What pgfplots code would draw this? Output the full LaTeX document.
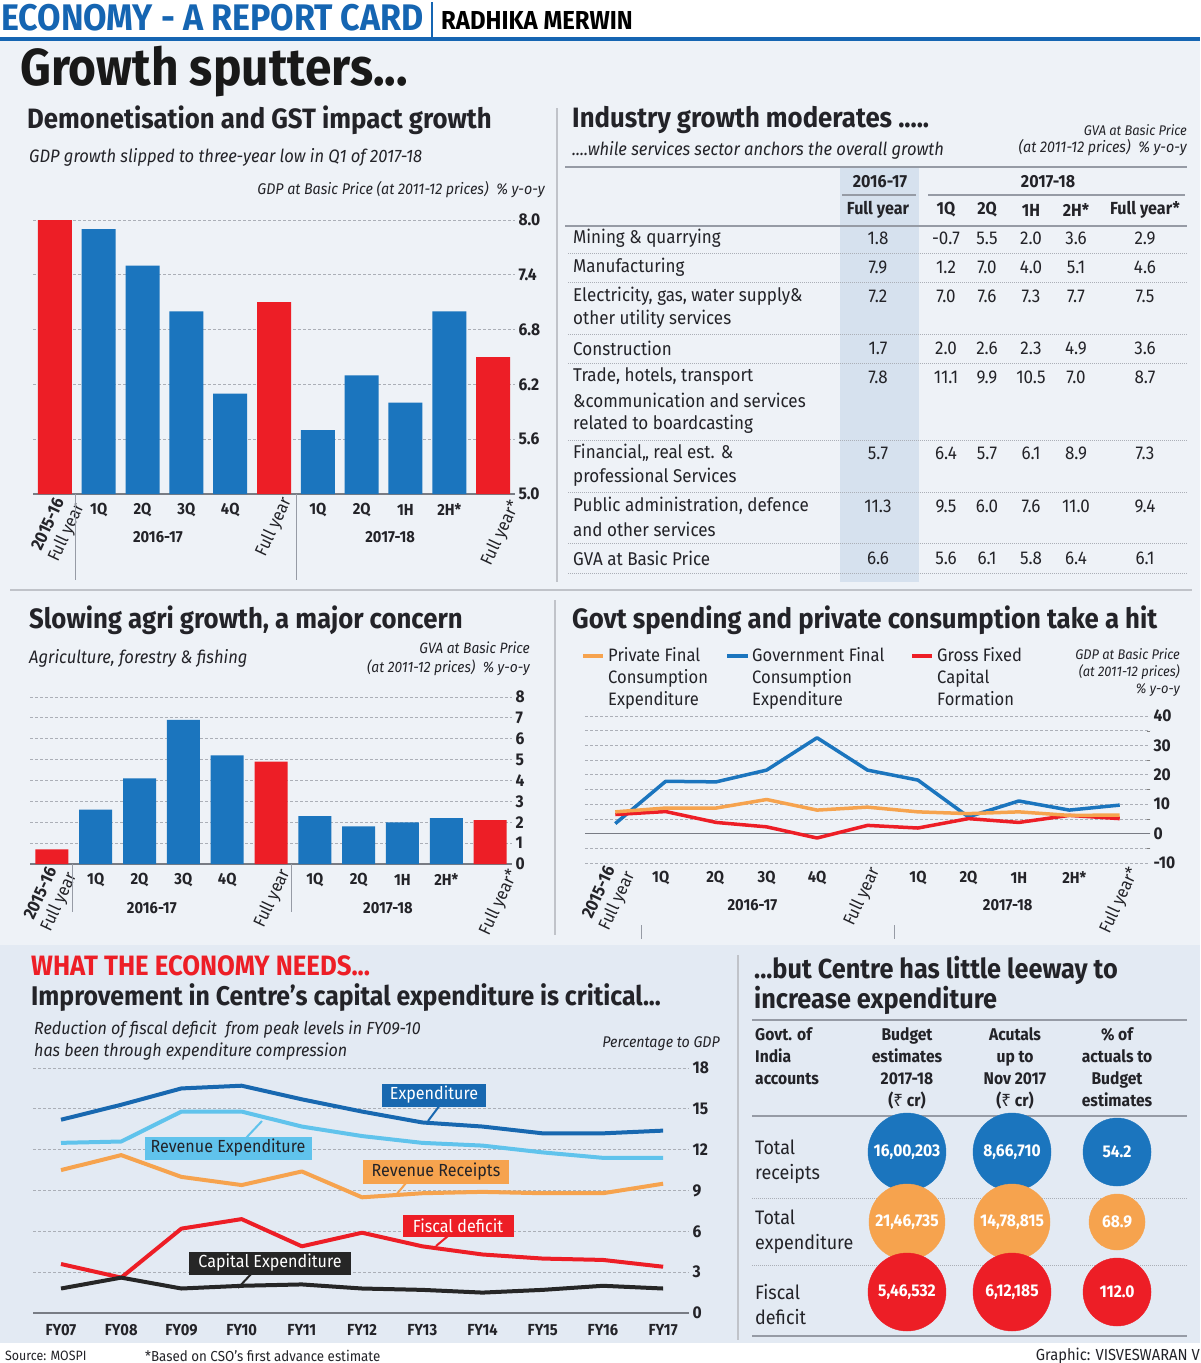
\documentclass[border=0pt]{standalone}
\usepackage{fontspec}
\setmainfont{Fira Sans}[FakeStretch=0.92]
\newfontfamily\rupee{Noto Sans}
\usepackage{pgfplots}
\pgfplotsset{compat=1.18}

\definecolor{bgtop}{RGB}{238,242,247}
\definecolor{bgbot}{RGB}{227,234,243}
\definecolor{cblue}{RGB}{27,117,190}
\definecolor{cred}{RGB}{237,30,38}
\definecolor{corange}{RGB}{246,163,78}
\definecolor{clblue}{RGB}{96,195,236}
\definecolor{cdblue}{RGB}{24,104,176}
\definecolor{hblue}{RGB}{21,101,178}
\definecolor{colshade}{RGB}{214,225,238}
\definecolor{txt}{RGB}{35,35,40}
\definecolor{rule}{RGB}{150,155,165}

\newcommand\fs[2]{\fontsize{#1}{#2}\selectfont}
% x label under an axis: [yshift]{x}{y}{text}
\newcommand\xl[4][-16pt]{\node[lab] at (axis cs:#2,#3) [yshift=#1] {#4};}
\newcommand\cv[3]{\node[font=\bfseries\fs{17}{17}, text=white, inner sep=0pt] at (axis cs:#1,#2) {#3};}

\pgfplotsset{
  barax/.style={scale only axis, clip=true,
    axis x line*=bottom, axis y line*=right,
    y axis line style={draw=none},
    x axis line style={line width=1.6pt, color=rule!80!black},
    xtick=\empty, major tick length=0pt,
    ymajorgrids, grid style={densely dashed, rule!80, line width=0.8pt},
    tick label style={font=\bfseries\fs{17}{17}, text=txt},
    /pgf/number format/assume math mode=true},
}
\tikzset{
  lab/.style={font=\bfseries\fs{16}{16}, text=txt, inner sep=0pt},
  rlab/.style={font=\fs{17.5}{20}, text=txt, inner sep=0pt, rotate=65, anchor=east, align=center},
  ttl/.style={font=\bfseries\fs{28}{28}, text=txt, anchor=west},
  sub/.style={font=\itshape\fs{18}{18}, text=txt, anchor=west},
  unit/.style={font=\itshape\fs{14}{17}, text=txt, anchor=east, align=right},
  cell/.style={font=\fs{18.5}{18.5}, text=txt},
}

\begin{document}
\begin{tikzpicture}
\path[use as bounding box] (0,0) rectangle (1200pt,-1363pt);
\begin{scope}[x=1pt, y=-1pt, every node/.append style={inner sep=0pt}]
  % backgrounds
  \fill[white] (0,0) rectangle (1200,1363);
  \fill[bgtop] (0,41) rectangle (1200,945);
  \fill[bgbot] (0,945) rectangle (1200,1343);
  \fill[hblue] (0,37) rectangle (1200,41);
  \draw[hblue, line width=2pt] (432,2) -- (432,37);
  \node[anchor=west, font=\bfseries\fs{37}{37}, text=hblue] at (1,18) {ECONOMY - A REPORT CARD};
  \node[anchor=west, font=\bfseries\fs{26}{26}, text=black] at (441,20) {RADHIKA MERWIN};
  \node[anchor=west, font=\bfseries\fs{52}{52}, text=black!90] at (20,72) {Growth sputters...};
  % separators
  \draw[rule!60, line width=1.2pt] (557,108) -- (557,582);
  \draw[rule!60, line width=1.2pt] (10,590) -- (1192,590);
  \draw[rule!60, line width=1.2pt] (555,600) -- (555,935);
  \draw[rule!60, line width=1.2pt] (738,955) -- (738,1340);

  % top-left texts
  \node[ttl] at (27,120) {Demonetisation and GST impact growth};
  \node[sub] at (29,157) {GDP growth slipped to three-year low in Q1 of 2017-18};
  \node[unit, font=\itshape\fs{15.5}{17}] at (545,190) {GDP at Basic Price (at 2011-12 prices)\enspace\% y-o-y};

  % top-right table
  \fill[colshade] (840,168) rectangle (919,582);
  \node[ttl] at (572,120) {Industry growth moderates .....};
  \node[sub] at (572,150) {....while services sector anchors the overall growth};
  \node[unit] at (1187,130) {GVA at Basic Price};
  \node[unit, font=\itshape\fs{15.5}{17}] at (1187,148) {(at 2011-12 prices)\enspace\% y-o-y};
  \draw[rule, line width=2pt] (565,167) -- (1187,167);
  \node[lab, font=\bfseries\fs{17.5}{17.5}] at (880,182) {2016-17};
  \node[lab, font=\bfseries\fs{17.5}{17.5}] at (1048,182) {2017-18};
  \draw[rule, line width=1.5pt] (842,195) -- (916,195);
  \draw[rule, line width=1.5pt] (928,195) -- (1185,195);
  \foreach \x/\t in {878/Full year,946/1Q,987/2Q,1031/1H,1076/2H*,1145/Full year*}
    \node[lab, font=\bfseries\fs{17.5}{17.5}] at (\x,210) {\t};
  \draw[rule, line width=2pt] (565,226) -- (1187,226);
  \foreach \y in {253,282,334,363,440,492,543,573}
    \draw[rule!80, densely dotted, line width=1pt] (568,\y) -- (1187,\y);
  \foreach \y/\t in {238/Mining \& quarrying, 267/Manufacturing,
      296/{Electricity, gas, water supply\&}, 319/other utility services,
      348/Construction, 377/{Trade, hotels, transport},
      400/\&communication and services, 424/related to boardcasting,
      453/{Financial,, real est. \&}, 477/professional Services,
      506/{Public administration, defence}, 529/and other services,
      558/GVA at Basic Price}
    \node[cell, anchor=west] at (573,\y) {\t};
  \foreach \y/\a/\b/\c/\d/\e/\f in {
      238/1.8/-0.7/5.5/2.0/3.6/2.9, 267/7.9/1.2/7.0/4.0/5.1/4.6,
      296/7.2/7.0/7.6/7.3/7.7/7.5, 348/1.7/2.0/2.6/2.3/4.9/3.6,
      377/7.8/11.1/9.9/10.5/7.0/8.7, 453/5.7/6.4/5.7/6.1/8.9/7.3,
      506/11.3/9.5/6.0/7.6/11.0/9.4, 558/6.6/5.6/6.1/5.8/6.4/6.1}{
    \node[cell] at (878,\y) {\a};
    \node[cell] at (946,\y) {\b};
    \node[cell] at (987,\y) {\c};
    \node[cell] at (1031,\y) {\d};
    \node[cell] at (1076,\y) {\e};
    \node[cell] at (1145,\y) {\f};
  }

  % middle-left texts
  \node[ttl] at (29,620) {Slowing agri growth, a major concern};
  \node[sub] at (29,658) {Agriculture, forestry \& fishing};
  \node[unit, font=\itshape\fs{15}{17}] at (530,648) {GVA at Basic Price};
  \node[unit, font=\itshape\fs{15}{17}] at (530,668) {(at 2011-12 prices)\enspace\% y-o-y};

  % middle-right texts
  \node[ttl] at (572,620) {Govt spending and private consumption take a hit};
  \draw[corange, line width=4pt] (583,656) -- (603,656);
  \draw[cblue, line width=4pt] (727,656) -- (748,656);
  \draw[cred, line width=4pt] (912,656) -- (932,656);
  \node[cell, anchor=north west, align=left, font=\fs{18}{22}] at (608,647) {Private Final\\Consumption\\Expenditure};
  \node[cell, anchor=north west, align=left, font=\fs{18}{22}] at (752,647) {Government Final\\Consumption\\Expenditure};
  \node[cell, anchor=north west, align=left, font=\fs{18}{22}] at (937,647) {Gross Fixed\\Capital\\Formation};
  \node[unit, anchor=north east] at (1180,648) {GDP at Basic Price\\(at 2011-12 prices)\\\% y-o-y};

  % bottom-left texts
  \node[ttl, text=cred] at (31,966) {WHAT THE ECONOMY NEEDS...};
  \node[ttl, font=\bfseries\fs{27}{27}] at (31,998) {Improvement in Centre's capital expenditure is critical...};
  \node[sub, font=\itshape\fs{17.5}{17.5}] at (34,1030) {Reduction of fiscal deficit\enspace from peak levels in FY09-10};
  \node[sub, font=\itshape\fs{17.5}{17.5}] at (34,1052) {has been through expenditure compression};
  \node[unit, font=\itshape\fs{15.5}{15.5}] at (720,1044) {Percentage to GDP};

  % bottom-right texts
  \node[ttl, font=\bfseries\fs{27.5}{27.5}] at (754,970) {...but Centre has little leeway to};
  \node[ttl, font=\bfseries\fs{27.5}{27.5}] at (754,1000) {increase expenditure};
  \draw[rule, line width=2pt] (752,1020) -- (1187,1020);
  \node[anchor=north west, align=left, font=\bfseries\fs{17}{22}, text=txt] at (755,1027) {Govt. of\\India\\accounts};
  \node[anchor=north, align=center, font=\bfseries\fs{17}{22}, text=txt] at (907,1027) {Budget\\estimates\\2017-18\\({\rupee ₹} cr)};
  \node[anchor=north, align=center, font=\bfseries\fs{17}{22}, text=txt] at (1015,1027) {Acutals\\up to\\Nov 2017\\({\rupee ₹} cr)};
  \node[anchor=north, align=center, font=\bfseries\fs{17}{22}, text=txt] at (1117,1027) {\% of\\actuals to\\Budget\\estimates};
  \draw[rule, line width=2pt] (752,1116) -- (1187,1116);
  \draw[rule!80, densely dotted, line width=1pt] (752,1198) -- (1187,1198);
  \draw[rule!80, densely dotted, line width=1pt] (752,1265) -- (1187,1265);
  \draw[rule, line width=2pt] (752,1336) -- (1187,1336);
  \node[cell, anchor=west, align=left, font=\fs{19.5}{25}] at (755,1162) {Total\\receipts};
  \node[cell, anchor=west, align=left, font=\fs{19.5}{25}] at (755,1232) {Total\\expenditure};
  \node[cell, anchor=west, align=left, font=\fs{19.5}{25}] at (755,1304) {Fiscal\\deficit};

  % footer
  \node[anchor=west, font=\fs{13.5}{13.5}, text=txt] at (5,1356) {Source: MOSPI};
  \node[anchor=west, font=\fs{14.5}{14.5}, text=txt] at (145,1356) {*Based on CSO's first advance estimate};
  \node[anchor=east, font=\fs{16}{16}, text=txt] at (1200,1356) {Graphic: VISVESWARAN V};
\end{scope}

% ---- GDP growth bars
\begin{axis}[barax, at={(33pt,-494pt)}, anchor=south west,
  width=482pt, height=274pt, xmin=-0.5, xmax=10.5, ymin=5, ymax=8,
  ytick={5,5.6,6.2,6.8,7.4,8},
  yticklabel style={/pgf/number format/fixed, /pgf/number format/fixed zerofill,
    /pgf/number format/precision=1}]
  \addplot[ybar, bar width=34pt, bar shift=0pt, fill=cred, draw=none]
    coordinates {(0,8.0)(5,7.1)(10,6.5)};
  \addplot[ybar, bar width=34pt, bar shift=0pt, fill=cblue, draw=none]
    coordinates {(1,7.9)(2,7.5)(3,7.0)(4,6.1)(6,5.7)(7,6.3)(8,6.0)(9,7.0)};
\end{axis}
\begin{axis}[barax, at={(33pt,-494pt)}, anchor=south west, hide axis,
  width=482pt, height=274pt, xmin=-0.5, xmax=10.5, ymin=5, ymax=8, clip=false]
  \xl{1}{5}{1Q}\xl{2}{5}{2Q}\xl{3}{5}{3Q}\xl{4}{5}{4Q}
  \xl{6}{5}{1Q}\xl{7}{5}{2Q}\xl{8}{5}{1H}\xl{9}{5}{2H*}
  \node[rlab] at (axis cs:0.04,5) [yshift=-16pt] {\textbf{2015-16}\\Full year};
  \node[rlab] at (axis cs:5.05,5) [yshift=-12pt] {Full year};
  \node[rlab] at (axis cs:10.12,5) [yshift=-19pt] {Full year*};
  \xl[-43pt]{2.35}{5}{2016-17}\xl[-43pt]{7.65}{5}{2017-18}
  \draw[rule, line width=1pt] (axis cs:0.46,5) -- ++(0pt,-86pt);
  \draw[rule, line width=1pt] (axis cs:5.52,5) -- ++(0pt,-86pt);
\end{axis}

% ---- Agri bars
\begin{axis}[barax, at={(30pt,-864pt)}, anchor=south west,
  width=482pt, height=167pt, xmin=-0.5, xmax=10.5, ymin=0, ymax=8,
  ytick={0,1,...,8}]
  \addplot[ybar, bar width=33pt, bar shift=0pt, fill=cred, draw=none]
    coordinates {(0,0.7)(5,4.9)(10,2.1)};
  \addplot[ybar, bar width=33pt, bar shift=0pt, fill=cblue, draw=none]
    coordinates {(1,2.6)(2,4.1)(3,6.9)(4,5.2)(6,2.3)(7,1.8)(8,2.0)(9,2.2)};
\end{axis}
\begin{axis}[barax, at={(30pt,-864pt)}, anchor=south west, hide axis,
  width=482pt, height=167pt, xmin=-0.5, xmax=10.5, ymin=0, ymax=8, clip=false]
  \xl{1}{0}{1Q}\xl{2}{0}{2Q}\xl{3}{0}{3Q}\xl{4}{0}{4Q}
  \xl{6}{0}{1Q}\xl{7}{0}{2Q}\xl{8}{0}{1H}\xl{9}{0}{2H*}
  \node[rlab] at (axis cs:-0.02,0) [yshift=-14pt] {\textbf{2015-16}\\Full year};
  \node[rlab] at (axis cs:5.02,0) [yshift=-15pt] {Full year};
  \node[rlab] at (axis cs:10.19,0) [yshift=-17pt] {Full year*};
  \xl[-44pt]{2.28}{0}{2016-17}\xl[-44pt]{7.67}{0}{2017-18}
  \draw[rule, line width=1pt] (axis cs:0.48,0) -- ++(0pt,-48pt);
  \draw[rule, line width=1pt] (axis cs:5.46,0) -- ++(0pt,-48pt);
\end{axis}

% ---- Govt spending lines
\begin{axis}[barax, at={(585pt,-863pt)}, anchor=south west,
  width=565pt, height=147pt, xmin=-0.6, xmax=10.6, ymin=-10, ymax=40,
  x axis line style={draw=none},
  ytick={-10,0,...,40}, minor ytick={-5,5,...,35}, yminorgrids,
  minor grid style={densely dashed, rule!80, line width=0.8pt}, clip=false]
  \draw[rule!80!black, line width=1.6pt] (axis cs:-0.6,0) -- (axis cs:10.6,0);
  \addplot[cblue, line width=3.5pt, line join=round, mark=none]
    coordinates {(0,3.4)(1,17.8)(2,17.6)(3,21.6)(4,32.6)(5,21.6)(6,18.2)(7,5.7)(8,11.1)(9,8.0)(10,9.7)};
  \addplot[cred, line width=3.5pt, line join=round, mark=none]
    coordinates {(0,6.5)(1,7.5)(2,3.8)(3,2.3)(4,-1.5)(5,2.8)(6,1.9)(7,5.1)(8,3.8)(9,6.2)(10,5.1)};
  \addplot[corange, line width=3.5pt, line join=round, mark=none]
    coordinates {(0,7.4)(1,8.7)(2,8.7)(3,11.6)(4,8.0)(5,9.0)(6,7.4)(7,6.8)(8,7.4)(9,6.2)(10,6.3)};
  \xl[-15pt]{0.9}{-10}{1Q}\xl[-15pt]{1.98}{-10}{2Q}\xl[-15pt]{3}{-10}{3Q}\xl[-15pt]{4}{-10}{4Q}
  \xl[-15pt]{6}{-10}{1Q}\xl[-15pt]{7}{-10}{2Q}\xl[-15pt]{8}{-10}{1H}\xl[-15pt]{9.1}{-10}{2H*}
  \node[rlab] at (axis cs:-0.12,-10) [yshift=-14pt] {\textbf{2015-16}\\Full year};
  \node[rlab] at (axis cs:4.92,-10) [yshift=-13pt] {Full year};
  \node[rlab] at (axis cs:10.02,-10) [yshift=-15pt] {Full year*};
  \xl[-42pt]{2.72}{-10}{2016-17}\xl[-42pt]{7.78}{-10}{2017-18}
  \draw[rule, line width=1pt] (axis cs:0.52,-10) ++(0pt,-62pt) -- ++(0pt,-14pt);
  \draw[rule, line width=1pt] (axis cs:5.54,-10) ++(0pt,-62pt) -- ++(0pt,-14pt);
\end{axis}

% ---- Fiscal lines
\begin{axis}[barax, at={(33pt,-1313pt)}, anchor=south west,
  width=656pt, height=245pt, xmin=-0.465, xmax=10.43, ymin=0, ymax=18,
  ytick={0,3,...,18}, clip=false,
  x axis line style={line width=2pt, color=rule!80!black}]
  \addplot[cdblue, line width=4pt, line join=round, mark=none]
    coordinates {(0,14.2)(1,15.3)(2,16.5)(3,16.7)(4,15.7)(5,14.8)(6,14.0)(7,13.7)(8,13.2)(9,13.2)(10,13.4)};
  \addplot[clblue, line width=4pt, line join=round, mark=none]
    coordinates {(0,12.5)(1,12.6)(2,14.8)(3,14.8)(4,13.7)(5,13.0)(6,12.5)(7,12.3)(8,11.8)(9,11.4)(10,11.4)};
  \addplot[corange, line width=4pt, line join=round, mark=none]
    coordinates {(0,10.5)(1,11.6)(2,10.0)(3,9.4)(4,10.4)(5,8.5)(6,8.8)(7,8.9)(8,8.8)(9,8.8)(10,9.5)};
  \addplot[cred, line width=4pt, line join=round, mark=none]
    coordinates {(0,3.6)(1,2.6)(2,6.2)(3,6.9)(4,4.9)(5,5.9)(6,4.9)(7,4.3)(8,4.0)(9,3.9)(10,3.4)};
  \addplot[black!85, line width=4pt, line join=round, mark=none]
    coordinates {(0,1.8)(1,2.6)(2,1.8)(3,2.0)(4,2.1)(5,1.8)(6,1.7)(7,1.5)(8,1.7)(9,2.0)(10,1.8)};
  \xl[-17pt]{0}{0}{FY07}\xl[-17pt]{1}{0}{FY08}\xl[-17pt]{2}{0}{FY09}\xl[-17pt]{3}{0}{FY10}
  \xl[-17pt]{4}{0}{FY11}\xl[-17pt]{5}{0}{FY12}\xl[-17pt]{6}{0}{FY13}\xl[-17pt]{7}{0}{FY14}
  \xl[-17pt]{8}{0}{FY15}\xl[-17pt]{9}{0}{FY16}\xl[-17pt]{10}{0}{FY17}
\end{axis}

% ---- Centre accounts circles
\begin{axis}[at={(740pt,-1117pt)}, anchor=north west, scale only axis,
  width=460pt, height=210pt, xmin=-0.59, xmax=3.79, ymin=0.5, ymax=3.5,
  y dir=reverse, hide axis, clip=false]
  \addplot[only marks, mark=*, mark size=39pt, cblue] coordinates {(1,1)(2,1)};
  \addplot[only marks, mark=*, mark size=34pt, cblue] coordinates {(3,1)};
  \addplot[only marks, mark=*, mark size=38pt, corange] coordinates {(1,2)(2,2)};
  \addplot[only marks, mark=*, mark size=28pt, corange] coordinates {(3,2)};
  \addplot[only marks, mark=*, mark size=39pt, cred] coordinates {(1,3)(2,3)};
  \addplot[only marks, mark=*, mark size=34pt, cred] coordinates {(3,3)};
\end{axis}
\begin{axis}[at={(740pt,-1117pt)}, anchor=north west, scale only axis,
  width=460pt, height=210pt, xmin=-0.59, xmax=3.79, ymin=0.5, ymax=3.5,
  y dir=reverse, hide axis, clip=false]
  \cv{1}{1}{16,00,203}\cv{2}{1}{8,66,710}\cv{3}{1}{54.2}
  \cv{1}{2}{21,46,735}\cv{2}{2}{14,78,815}\cv{3}{2}{68.9}
  \cv{1}{3}{5,46,532}\cv{2}{3}{6,12,185}\cv{3}{3}{112.0}
\end{axis}

% ---- fiscal chart labels
\begin{scope}[x=1pt, y=-1pt, every node/.append style={inner sep=0pt}]
  \draw[cdblue, line width=2pt] (440,1105) -- (428,1121);
  \node[fill=cdblue, text=white, font=\fs{17.5}{17.5}, minimum width=104pt, minimum height=23pt] at (434,1095) {Expenditure};
  \draw[clblue, line width=2pt] (246,1138) -- (262,1121);
  \node[fill=clblue, text=txt, font=\fs{17.5}{17.5}, minimum width=167pt, minimum height=23pt] at (228,1148) {Revenue Expenditure};
  \draw[corange, line width=2pt] (406,1183) -- (396,1195);
  \node[fill=corange, text=txt, font=\fs{17.5}{17.5}, minimum width=146pt, minimum height=24pt] at (436,1172) {Revenue Receipts};
  \draw[cred, line width=2pt] (448,1236) -- (436,1246);
  \node[fill=cred, text=white, font=\fs{17.5}{17.5}, minimum width=111pt, minimum height=22pt] at (458,1226) {Fiscal deficit};
  \draw[black!85, line width=2pt] (252,1273) -- (238,1288);
  \node[fill=black!85, text=white, font=\fs{17.5}{17.5}, minimum width=162pt, minimum height=23pt] at (270,1263) {Capital Expenditure};
\end{scope}
\end{tikzpicture}
\end{document}
